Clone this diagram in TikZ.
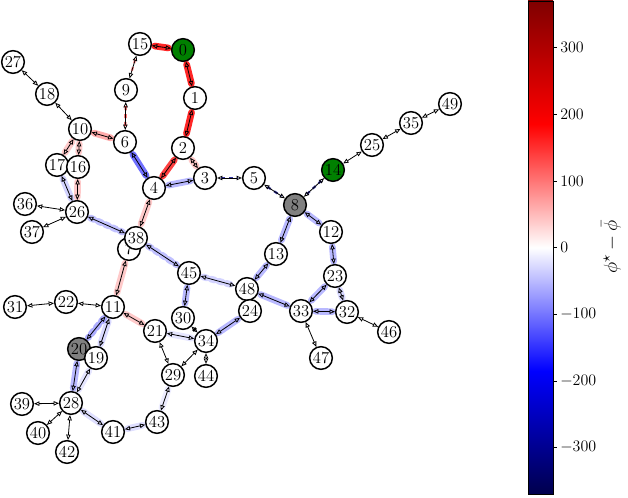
\documentclass[tikz,border=0pt]{standalone}
\usetikzlibrary{arrows.meta}
\pgfdeclarelayer{glow}
\pgfdeclarelayer{edges}
\pgfsetlayers{glow,edges,main}
\definecolor{mgreen}{RGB}{0,128,0}
\definecolor{mgray}{RGB}{128,128,128}
\definecolor{sdark}{rgb}{0,0,0.3}
\definecolor{sdred}{rgb}{0.5,0,0}
\definecolor{sred}{rgb}{1,0,0}
\definecolor{ssalmon}{rgb}{1,0.4,0.4}
\definecolor{spink}{rgb}{1,0.62,0.62}
\definecolor{sblue}{rgb}{0.2,0.2,1}
\definecolor{slblue}{rgb}{0.5,0.5,1}
\definecolor{snavy}{rgb}{0,0,0.55}
\pgfdeclareverticalshading{seismic}{100bp}{color(0bp)=(sdark); color(25bp)=(sdark); color(37.5bp)=(blue); color(50bp)=(white); color(62.5bp)=(red); color(75bp)=(sdred); color(100bp)=(sdred)}
\tikzset{
  nd/.style={circle, draw=black, line width=1.1pt, fill=white, minimum size=17pt, inner sep=0pt, font=\fontsize{12.5}{14}\selectfont},
  ndg/.style={nd, fill=mgreen},
  ndy/.style={nd, fill=mgray},
  ed/.style={{Triangle[open,length=4pt,width=3.3pt]}-{Triangle[open,length=4pt,width=3.3pt]}, line width=0.6pt},
  gl/.style={line width=5pt, opacity=0.55, line cap=round, shorten <=2pt, shorten >=2pt},
  gt/.style={line width=1.6pt, opacity=0.8, dashed, shorten <=3pt, shorten >=3pt},
  tk/.style={font=\fontsize{12.5}{14}\selectfont, anchor=west, inner sep=0pt}
}
\begin{document}
\begin{tikzpicture}[x=0.75pt,y=-0.75pt]
\useasboundingbox (0,0) rectangle (628,498);
% nodes
\node[ndg] (n0) at (183,50) {0};
\node[nd] (n1) at (195,98) {1};
\node[nd] (n2) at (183,148) {2};
\node[nd] (n3) at (205,178) {3};
\node[nd] (n4) at (154,188) {4};
\node[nd] (n5) at (254,178) {5};
\node[nd] (n6) at (125,142) {6};
\node[nd] (n7) at (129,249) {7};
\node[ndy] (n8) at (295,205) {8};
\node[nd] (n9) at (126,90) {9};
\node[nd] (n10) at (80,129) {10};
\node[nd] (n11) at (113,307) {11};
\node[nd] (n12) at (331,232) {12};
\node[nd] (n13) at (276,254) {13};
\node[ndg] (n14) at (333,170) {14};
\node[nd] (n15) at (140,44) {15};
\node[nd] (n17) at (57,165) {17};
\node[nd] (n16) at (78,167) {16};
\node[nd] (n18) at (47,94) {18};
\node[ndy] (n20) at (79,349) {20};
\node[nd] (n19) at (96,358) {19};
\node[nd] (n21) at (155,331) {21};
\node[nd] (n22) at (66,302) {22};
\node[nd] (n23) at (335,276) {23};
\node[nd] (n25) at (372,145) {25};
\node[nd] (n26) at (77,212) {26};
\node[nd] (n27) at (13,62) {27};
\node[nd] (n28) at (71,403) {28};
\node[nd] (n29) at (173,375) {29};
\node[nd] (n30) at (183,318) {30};
\node[nd] (n31) at (15,307) {31};
\node[nd] (n32) at (347,312) {32};
\node[nd] (n33) at (301,311) {33};
\node[nd] (n34) at (206,341) {34};
\node[nd] (n35) at (411,123) {35};
\node[nd] (n36) at (25,204) {36};
\node[nd] (n37) at (32,232) {37};
\node[nd] (n38) at (136,238) {38};
\node[nd] (n39) at (22,404) {39};
\node[nd] (n40) at (38,433) {40};
\node[nd] (n41) at (113,432) {41};
\node[nd] (n42) at (67,452) {42};
\node[nd] (n43) at (157,422) {43};
\node[nd] (n44) at (206,376) {44};
\node[nd] (n45) at (189,273) {45};
\node[nd] (n46) at (389,332) {46};
\node[nd] (n47) at (321,358) {47};
\node[nd] (n48) at (247,289) {48};
\node[nd] (n24) at (250,311) {24};
\node[nd] (n49) at (450,104) {49};
% glows
\begin{pgfonlayer}{glow}
\draw[gl, sred, opacity=0.85] (n0) -- (n15);
\draw[gl, sred, opacity=0.85] (n0) -- (n1);
\draw[gl, sred, opacity=0.85] (n1) -- (n2);
\draw[gt, ssalmon] (n15) -- (n9);
\draw[gt, sred] (n9) -- (n6);
\draw[gl, ssalmon] (n10) -- (n6);
\draw[gl, spink] (n10) -- (n17);
\draw[gl, spink] (n10) -- (n16);
\draw[gl, spink] (n16) -- (n26);
\draw[gl, slblue, opacity=0.35] (n17) -- (n26);
\draw[gl, sblue, opacity=0.7] (n6) -- (n4);
\draw[gl, sred, opacity=0.75] (n2) -- (n4);
\draw[gl, spink] (n2) -- (n3);
\draw[gl, slblue] (n3) -- (n4);
\draw[gt, snavy] (n3) -- (n5);
\draw[gt, snavy] (n5) -- (n8);
\draw[gt, snavy] (n8) -- (n14);
\draw[gl, slblue] (n8) -- (n12);
\draw[gl, slblue] (n8) -- (n13);
\draw[gl, slblue] (n12) -- (n23);
\draw[gl, slblue] (n23) -- (n33);
\draw[gl, slblue, opacity=0.3] (n23) -- (n32);
\draw[gl, slblue] (n33) -- (n32);
\draw[gl, slblue] (n48) -- (n33);
\draw[gl, slblue] (n13) -- (n48);
\draw[gl, slblue, opacity=0.35, dashed] (n45) -- (n48);
\draw[gl, sblue, opacity=0.3, dashed] (n38) -- (n45);
\draw[gl, sblue, opacity=0.3, dashed] (n26) -- (n38);
\draw[gl, spink] (n4) -- (n38);
\draw[gl, spink] (n7) -- (n11);
\draw[gl, spink] (n11) -- (n21);
\draw[gl, sblue, opacity=0.4, dashed] (n11) -- (n20);
\draw[gl, slblue, opacity=0.3] (n11) -- (n19);
\draw[gl, slblue] (n20) -- (n28);
\draw[gl, slblue, opacity=0.2] (n19) -- (n28);
\draw[gl, slblue, opacity=0.25] (n28) -- (n41);
\draw[gl, slblue, opacity=0.25] (n41) -- (n43);
\draw[gl, slblue] (n45) -- (n30);
\draw[gl, slblue] (n24) -- (n34);
\draw[gl, slblue, opacity=0.2] (n21) -- (n34);
\draw[gl, slblue, opacity=0.15] (n43) -- (n29);
\end{pgfonlayer}
% edges
\begin{pgfonlayer}{edges}
\draw[ed] (n0) -- (n15);
\draw[ed] (n0) -- (n1);
\draw[ed] (n1) -- (n2);
\draw[ed] (n15) -- (n9);
\draw[ed] (n9) -- (n6);
\draw[ed] (n27) -- (n18);
\draw[ed] (n18) -- (n10);
\draw[ed] (n10) -- (n6);
\draw[ed] (n10) -- (n17);
\draw[ed] (n10) -- (n16);
\draw[ed] (n6) -- (n4);
\draw[ed] (n2) -- (n4);
\draw[ed] (n2) -- (n3);
\draw[ed] (n3) -- (n4);
\draw[ed] (n3) -- (n5);
\draw[ed] (n5) -- (n8);
\draw[ed] (n8) -- (n14);
\draw[ed] (n14) -- (n25);
\draw[ed] (n25) -- (n35);
\draw[ed] (n35) -- (n49);
\draw[ed] (n8) -- (n12);
\draw[ed] (n8) -- (n13);
\draw[ed] (n12) -- (n23);
\draw[ed] (n17) -- (n26);
\draw[ed] (n16) -- (n26);
\draw[ed] (n36) -- (n26);
\draw[ed] (n37) -- (n26);
\draw[ed] (n26) -- (n38);
\draw[ed] (n4) -- (n38);
\draw[ed] (n38) -- (n45);
\draw[ed] (n7) -- (n11);
\draw[ed] (n45) -- (n48);
\draw[ed] (n45) -- (n30);
\draw[ed] (n13) -- (n48);
\draw[ed] (n48) -- (n33);
\draw[ed] (n23) -- (n33);
\draw[ed] (n23) -- (n32);
\draw[ed] (n33) -- (n32);
\draw[ed] (n32) -- (n46);
\draw[ed] (n33) -- (n47);
\draw[ed] (n24) -- (n34);
\draw[ed] (n31) -- (n22);
\draw[ed] (n22) -- (n11);
\draw[ed] (n11) -- (n21);
\draw[ed] (n11) -- (n20);
\draw[ed] (n11) -- (n19);
\draw[ed] (n21) -- (n34);
\draw[ed] (n30) -- (n34);
\draw[ed] (n21) -- (n29);
\draw[ed] (n34) -- (n29);
\draw[ed] (n34) -- (n44);
\draw[ed] (n20) -- (n28);
\draw[ed] (n19) -- (n28);
\draw[ed] (n39) -- (n28);
\draw[ed] (n40) -- (n28);
\draw[ed] (n42) -- (n28);
\draw[ed] (n28) -- (n41);
\draw[ed] (n41) -- (n43);
\draw[ed] (n43) -- (n29);
\end{pgfonlayer}
% colorbar
\shade[shading=seismic] (528,1) rectangle (553,494);
\draw[line width=0.6pt] (528,1) rectangle (553,494);
\foreach \v/\yy in {300/47.5, 200/114.5, 100/181, 0/247.5, -100/314, -200/381, -300/447.5} {
  \draw[line width=0.6pt] (553,\yy) -- (557,\yy);
  \node[tk] at (560,\yy) {$\v$};
}
\node[rotate=90, font=\fontsize{15}{17}\selectfont] (lab) at (611,247) {$\phi^\star - \bar{\phi}$};
\end{tikzpicture}
\end{document}
